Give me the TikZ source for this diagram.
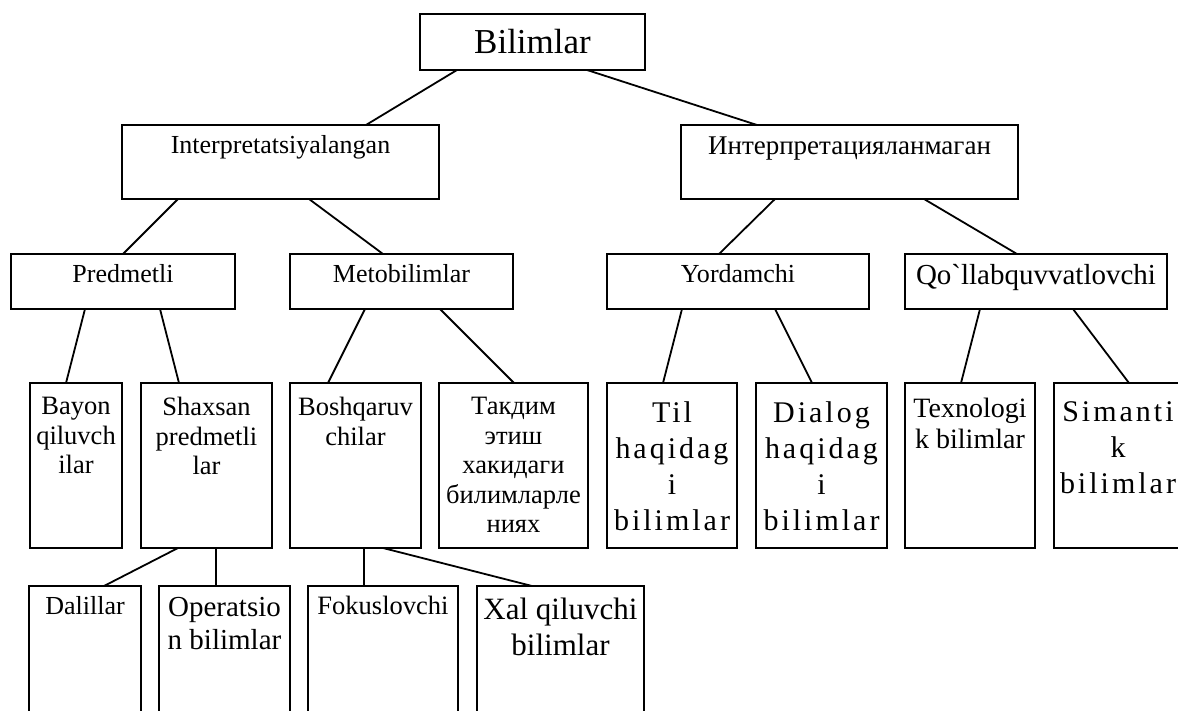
\documentclass[tikz,border=0pt]{standalone}
\usepackage{fontspec}
\setmainfont{Liberation Serif}
% same face without the TeX input mapping, so that ` stays a grave accent
\newfontfamily\plainserif{Liberation Serif}
\newfontfamily\spacedserif[LetterSpace=10]{Liberation Serif}
\usetikzlibrary{calc}

\newcommand\sz[2]{\fontsize{#1}{#2}\selectfont}

\begin{document}
\begin{tikzpicture}[x=1pt,y=-1pt,
  box/.style={draw, line width=1.8pt, anchor=north west, inner sep=0pt, outer sep=0pt},
  lbl/.style={inner sep=0pt, align=center},
  toptext/.style={lbl, anchor=north},
  basetext/.style={lbl, anchor=base},
  leaffont/.style={font=\sz{26.5}{29.5}},
  widefont/.style={font=\spacedserif\sz{30}{36}},
  link/.style={line width=1.8pt}]

\useasboundingbox (0,0) rectangle (1178,711);
\fill[white] (0,0) rectangle (1178,711);
\clip (0,0) rectangle (1178,711);

% --- boxes -------------------------------------------------------------
\node[box, minimum width=225, minimum height=56] (root)   at (420,14)  {};
\node[box, minimum width=317, minimum height=74] (interp) at (122,125) {};
\node[box, minimum width=337, minimum height=74] (unint)  at (681,125) {};

\node[box, minimum width=224, minimum height=55] (pred) at (11,254)  {};
\node[box, minimum width=223, minimum height=55] (meta) at (290,254) {};
\node[box, minimum width=262, minimum height=55] (yord) at (607,254) {};
\node[box, minimum width=262, minimum height=55] (qoll) at (905,254) {};

\node[box, minimum width=92,  minimum height=165] (bayon)  at (30,383)   {};
\node[box, minimum width=131, minimum height=165] (shax)   at (141,383)  {};
\node[box, minimum width=131, minimum height=165] (boshq)  at (290,383)  {};
\node[box, minimum width=149, minimum height=165] (takdim) at (439,383)  {};
\node[box, minimum width=130, minimum height=165] (til)    at (607,383)  {};
\node[box, minimum width=131, minimum height=165] (dialog) at (756,383)  {};
\node[box, minimum width=130, minimum height=165] (texn)   at (905,383)  {};
\node[box, minimum width=128, minimum height=165] (sim)    at (1054,383) {};

\node[box, minimum width=112, minimum height=140] (dal)  at (29,586)  {};
\node[box, minimum width=131, minimum height=140] (oper) at (159,586) {};
\node[box, minimum width=150, minimum height=140] (fok)  at (308,586) {};
\node[box, minimum width=167, minimum height=140] (xal)  at (477,586) {};

% --- texts -------------------------------------------------------------
\node[basetext, font=\sz{35}{40}] (t-root) at ($(root.north)+(0,40)$) {Bilimlar};
\node[basetext, font=\sz{26}{30}] (t-interp) at ($(interp.north)+(0,29)$) {Interpretatsiyalangan};
\node[basetext, font=\sz{27}{30}] (t-unint) at ($(unint.north)+(0,30)$) {Интерпретацияланмаган};

\node[basetext, font=\sz{26}{30}] (t-pred) at ($(pred.north)+(0,29)$) {Predmetli};
\node[basetext, font=\sz{26}{30}] (t-meta) at ($(meta.north)+(0,29)$) {Metobilimlar};
\node[basetext, font=\sz{26}{30}] (t-yord) at ($(yord.north)+(0,29)$) {Yordamchi};
\node[basetext, font=\plainserif\sz{29}{32}] (t-qoll) at ($(qoll.north)+(0,31)$) {Qo`llabquvvatlovchi};

\node[toptext, leaffont] (t-bayon)  at ($(bayon.north)+(0,14)$)  {Bayon\\qiluvch\\ilar};
\node[toptext, leaffont] (t-shax)   at ($(shax.north)+(0,14)$)   {Shaxsan\\predmetli\\lar};
\node[toptext, leaffont] (t-boshq)  at ($(boshq.north)+(0,14)$)  {Boshqaruv\\chilar};
\node[toptext, leaffont] (t-takdim) at ($(takdim.north)+(0,14)$) {Такдим\\этиш\\хакидаги\\билимларле\\ниях};
\node[toptext, widefont] (t-til)    at ($(til.north)+(0,18)$)    {Til\\haqidag\\i\\bilimlar};
\node[toptext, widefont] (t-dialog) at ($(dialog.north)+(0,18)$) {Dialog\\haqidag\\i\\bilimlar};
\node[toptext, font=\sz{28}{30.5}] (t-texn) at ($(texn.north)+(0,15)$) {Texnologi\\k bilimlar};
\node[toptext, widefont] (t-sim)    at ($(sim.north)+(0,18)$)    {Simanti\\k\\bilimlar};

\node[basetext, font=\sz{26}{30}]   (t-dal)  at ($(dal.north)+(0,28)$)  {Dalillar};
\node[toptext,  font=\sz{29}{33}]   (t-oper) at ($(oper.north)+(0,11)$) {Operatsio\\n bilimlar};
\node[basetext, font=\sz{26.5}{30}] (t-fok)  at ($(fok.north)+(0,28)$)  {Fokuslovchi};
\node[toptext,  font=\sz{31}{36}]   (t-xal)  at ($(xal.north)+(0,12)$)  {Xal qiluvchi\\bilimlar};

% --- connectors --------------------------------------------------------
\draw[link] ([xshift=37pt]root.south west)  -- ([xshift=244pt]interp.north west);
\draw[link] ([xshift=167pt]root.south west) -- ([xshift=76pt]unint.north west);

\draw[link] ([xshift=56pt]interp.south west)  -- ([xshift=112pt]pred.north west);
\draw[link] ([xshift=187pt]interp.south west) -- ([xshift=93pt]meta.north west);
\draw[link] ([xshift=94pt]unint.south west)   -- ([xshift=112pt]yord.north west);
\draw[link] ([xshift=243pt]unint.south west)  -- ([xshift=112pt]qoll.north west);

\draw[link] ([xshift=74pt]pred.south west)  -- ([xshift=36pt]bayon.north west);
\draw[link] ([xshift=149pt]pred.south west) -- ([xshift=38pt]shax.north west);
\draw[link] ([xshift=75pt]meta.south west)  -- ([xshift=38pt]boshq.north west);
\draw[link] ([xshift=150pt]meta.south west) -- ([xshift=75pt]takdim.north west);
\draw[link] ([xshift=75pt]yord.south west)  -- ([xshift=56pt]til.north west);
\draw[link] ([xshift=168pt]yord.south west) -- ([xshift=56pt]dialog.north west);
\draw[link] ([xshift=75pt]qoll.south west)  -- ([xshift=56pt]texn.north west);
\draw[link] ([xshift=168pt]qoll.south west) -- ([xshift=75pt]sim.north west);

\draw[link] ([xshift=37pt]shax.south west)  -- ([xshift=75pt]dal.north west);
\draw[link] ([xshift=75pt]shax.south west)  -- ([xshift=57pt]oper.north west);
\draw[link] ([xshift=74pt]boshq.south west) -- ([xshift=56pt]fok.north west);
\draw[link] ([xshift=93pt]boshq.south west) -- ([xshift=55pt]xal.north west);
\end{tikzpicture}
\end{document}
